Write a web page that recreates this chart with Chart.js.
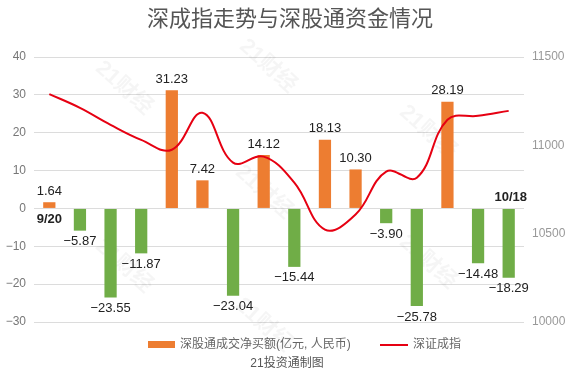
<!DOCTYPE html>
<html>
<head>
<meta charset="utf-8">
<script src="https://cdn.jsdelivr.net/npm/chart.js@4/dist/chart.umd.min.js"></script>
<style>
    html, body { margin: 0; padding: 0; background: #fff; }
    #wrap { position: relative; width: 567px; height: 376px; }
</style>
</head>
<body>
<div id="wrap"><canvas id="chart"></canvas></div>
<script>
// trading days shown on the chart (only first and last are labelled)
const dates = ['9/20', '9/23', '9/24', '9/25', '9/26', '9/27', '9/30', '10/8',
               '10/9', '10/10', '10/11', '10/14', '10/15', '10/16', '10/17', '10/18'];

// 深股通成交净买额 (亿元)
const netBuy = [1.64, -5.87, -23.55, -11.87, 31.23, 7.42, -23.04, 14.12,
                -15.44, 18.13, 10.30, -3.90, -25.78, 28.19, -14.48, -18.29];

// 深证成指
const szIndex = [11290, 11212, 11116, 11031, 10975, 11184, 10902, 10936,
                 10789, 10523, 10608, 10851, 10817, 11145, 11167, 11195];

const leftAxis = { min: -30, max: 40, step: 10 };
const rightAxis = { min: 10000, max: 11500, step: 500 };

const titleText = '深成指走势与深股通资金情况';
const barLegend = '深股通成交净买额(亿元, 人民币)';
const lineLegend = '深证成指';
const sourceText = '21投资通制图';
const watermark = '21财经';

const ORANGE = '#ed7d31';
const GREEN = '#70ad47';
const RED = '#e60012';
const FONT = '"Liberation Sans", "Noto Sans CJK SC", sans-serif';

function fmt(v) {
    return v.toFixed(2).replace('-', '\u2212');
}

// title, legend, source line and watermark
const decorPlugin = {
    id: 'decor',
    beforeDatasetsDraw(chart) {
        const ctx = chart.ctx;
        ctx.save();
        ctx.font = 'bold 22px ' + FONT;
        ctx.fillStyle = 'rgba(0,0,0,0.04)';
        ctx.textAlign = 'center';
        ctx.textBaseline = 'middle';
        [[268, 66], [124, 88], [264, 192], [124, 266], [264, 325], [428, 132], [428, 262]].forEach(p => {
            ctx.save();
            ctx.translate(p[0], p[1]);
            ctx.rotate(Math.PI / 4.3);
            ctx.fillText(watermark, 0, 0);
            ctx.restore();
        });
        ctx.restore();
    },
    afterDraw(chart) {
        const ctx = chart.ctx;
        ctx.save();

        ctx.font = '22px ' + FONT;
        ctx.fillStyle = '#555';
        ctx.textAlign = 'center';
        ctx.textBaseline = 'middle';
        ctx.fillText(titleText, 290, 20);

        // legend
        ctx.font = '12px ' + FONT;
        ctx.textAlign = 'left';
        ctx.fillStyle = ORANGE;
        ctx.fillRect(148, 341, 27, 7);
        ctx.fillStyle = '#666';
        ctx.fillText(barLegend, 180, 345);
        ctx.strokeStyle = RED;
        ctx.lineWidth = 2;
        ctx.beginPath();
        ctx.moveTo(380, 345);
        ctx.lineTo(408, 345);
        ctx.stroke();
        ctx.fillText(lineLegend, 413, 345);

        ctx.textAlign = 'center';
        ctx.fillStyle = '#555';
        ctx.fillText(sourceText, 287, 364);
        ctx.restore();
    }
};

// value labels on bars and first/last date
const labelPlugin = {
    id: 'barLabels',
    afterDatasetsDraw(chart) {
        const ctx = chart.ctx;
        const meta = chart.getDatasetMeta(0);
        const zeroY = chart.scales.y.getPixelForValue(0);
        ctx.save();
        ctx.textAlign = 'center';
        ctx.textBaseline = 'middle';
        ctx.fillStyle = '#222';
        ctx.font = '13px ' + FONT;
        meta.data.forEach((bar, i) => {
            const v = netBuy[i];
            const y = v >= 0 ? bar.y - 11 : bar.y + 11;
            ctx.fillText(fmt(v), bar.x, y);
        });

        ctx.font = 'bold 13px ' + FONT;
        const first = meta.data[0];
        const last = meta.data[meta.data.length - 1];
        ctx.fillText(dates[0], first.x, netBuy[0] >= 0 ? zeroY + 11 : zeroY - 11);
        ctx.fillText(dates[dates.length - 1], last.x + 2,
            netBuy[netBuy.length - 1] >= 0 ? zeroY + 11 : zeroY - 11);
        ctx.restore();
    }
};

new Chart(document.getElementById('chart'), {
    data: {
        labels: dates,
        datasets: [{
            type: 'bar',
            label: barLegend,
            data: netBuy,
            backgroundColor: netBuy.map(v => v >= 0 ? ORANGE : GREEN),
            yAxisID: 'y',
            barPercentage: 0.4,
            categoryPercentage: 1,
            order: 1
        }, {
            type: 'line',
            label: lineLegend,
            data: szIndex,
            borderColor: RED,
            borderWidth: 2,
            pointRadius: 0,
            tension: 0.4,
            yAxisID: 'y1',
            order: 0
        }]
    },
    options: {
        responsive: true,
        maintainAspectRatio: false,
        animation: false,
        layout: { padding: { top: 57, bottom: 54, left: 0, right: 0 } },
        plugins: {
            legend: { display: false },
            title: { display: false },
            tooltip: { enabled: false }
        },
        scales: {
            x: {
                display: false,
                offset: true
            },
            y: {
                position: 'left',
                min: leftAxis.min,
                max: leftAxis.max,
                border: { display: false },
                grid: { color: '#dcdcdc', drawTicks: false },
                ticks: {
                    stepSize: leftAxis.step,
                    padding: 8,
                    color: '#777',
                    font: { size: 12, family: FONT },
                    callback: v => String(v).replace('-', '\u2212')
                },
                afterFit(s) { s.width = 34; }
            },
            y1: {
                position: 'right',
                min: rightAxis.min,
                max: rightAxis.max,
                border: { display: false },
                grid: { display: false, drawTicks: false },
                ticks: {
                    stepSize: rightAxis.step,
                    padding: 8,
                    color: '#999',
                    font: { size: 12, family: FONT },
                    callback: v => String(v)
                },
                afterFit(s) { s.width = 43; }
            }
        }
    },
    plugins: [decorPlugin, labelPlugin]
});
</script>
</body>
</html>
